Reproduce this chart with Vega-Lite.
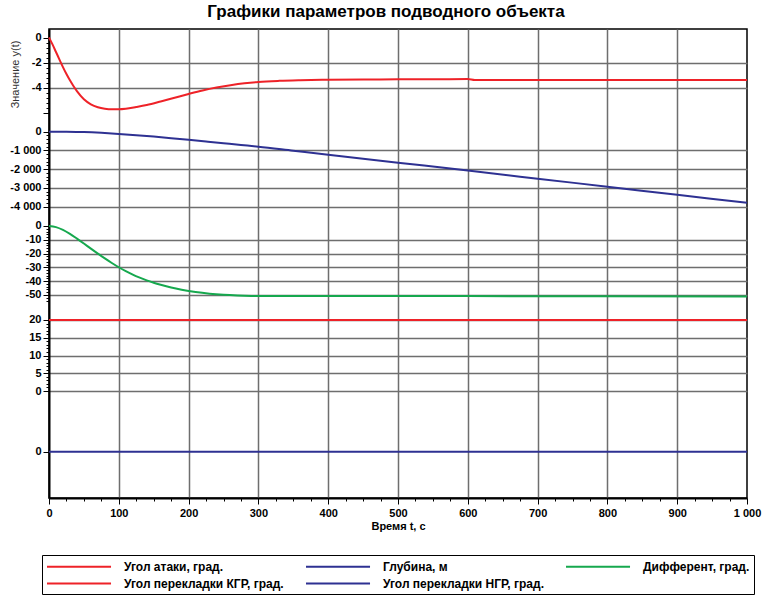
{
  "$schema": "https://vega.github.io/schema/vega-lite/v6.json",
  "width": 698,
  "height": 469,
  "autosize": "none",
  "padding": {"left": 49, "top": 29, "right": 15, "bottom": 97},
  "background": "white",
  "title": {"text": "Графики параметров подводного объекта", "font": "Liberation Sans", "fontSize": 17, "fontWeight": "bold", "color": "#000", "offset": 8, "dx": -12},
  "config": {
    "view": {"stroke": "#000", "strokeWidth": 1.5},
    "axis": {"labelFont": "Liberation Sans", "labelFontSize": 11, "labelFontWeight": "bold", "labelColor": "#000", "tickColor": "#000", "labelOverlap": false, "labelBound": false, "labelFlush": false, "gridColor": "#6e6e6e", "gridWidth": 1.5, "titleFont": "Liberation Sans", "titleColor": "#000"}
  },
  "encoding": {
    "x": {
      "field": "t", "type": "quantitative",
      "scale": {"domain": [0, 1000], "nice": false, "zero": false},
      "axis": {
        "values": [0,25,50,75,100,125,150,175,200,225,250,275,300,325,350,375,400,425,450,475,500,525,550,575,600,625,650,675,700,725,750,775,800,825,850,875,900,925,950,975,1000],
        "tickCount": 1000,
        "labelExpr": "datum.value % 100 === 0 ? (datum.value === 1000 ? '1 000' : '' + datum.value) : ''",
        "labelOverlap": false, "labelFlush": false,
        "tickSize": {"condition": {"test": "datum.value % 100 === 0", "value": 6}, "value": 3},
        "grid": true,
        "gridOpacity": {"condition": {"test": "datum.value % 100 === 0 && datum.value > 0 && datum.value < 1000", "value": 1}, "value": 0},
        "domainColor": "#000", "domainWidth": 2,
        "labelPadding": 3,
        "title": "Время t, с", "titleFontSize": 11, "titleFontWeight": "bold", "titlePadding": 2
      }
    }
  },
  "layer": [
    {
      "data": {"values": [
        {"t":0,"v":0},{"t":5,"v":-0.55},{"t":10,"v":-1.15},{"t":15,"v":-1.75},{"t":20,"v":-2.35},{"t":25,"v":-2.9},{"t":30,"v":-3.4},{"t":35,"v":-3.85},{"t":40,"v":-4.25},{"t":50,"v":-4.9},{"t":60,"v":-5.3},{"t":70,"v":-5.53},{"t":80,"v":-5.65},{"t":90,"v":-5.7},{"t":100,"v":-5.7},{"t":110,"v":-5.66},{"t":125,"v":-5.52},{"t":140,"v":-5.36},{"t":160,"v":-5.08},{"t":180,"v":-4.78},{"t":200,"v":-4.48},{"t":220,"v":-4.2},{"t":240,"v":-3.97},{"t":260,"v":-3.79},{"t":280,"v":-3.64},{"t":300,"v":-3.53},{"t":330,"v":-3.44},{"t":360,"v":-3.39},{"t":400,"v":-3.35},{"t":450,"v":-3.33},{"t":500,"v":-3.32},{"t":550,"v":-3.31},{"t":600,"v":-3.3},{"t":610,"v":-3.38},{"t":700,"v":-3.38},{"t":800,"v":-3.38},{"t":900,"v":-3.38},{"t":1000,"v":-3.38}
      ]},
      "layer": [
        {
          "mark": {"type": "line", "strokeWidth": 2, "interpolate": "monotone"},
          "encoding": {
            "y": {"field": "v", "type": "quantitative",
              "scale": {"domain": [-36.55, 0.675], "nice": false, "zero": false},
              "axis": {"orient": "left", "domain": false, "labelOverlap": false, "tickCount": 1000,
                "values": [0,-0.4,-0.8,-1.2,-1.6,-2,-2.4,-2.8,-3.2,-3.6,-4,-4.4,-4.8,-5.2,-5.6,-6],
                "labelExpr": "datum.value % 2 === 0 && datum.value >= -4 ? '' + datum.value : ''",
                "tickSize": {"condition": {"test": "datum.value % 2 === 0", "value": 6}, "value": 3},
                "grid": true,
                "gridOpacity": {"condition": {"test": "datum.value % 2 === 0 && datum.value < 0 && datum.value >= -4", "value": 1}, "value": 0},
                "labelPadding": 2,
                "title": "Значение y(t)", "titleFontSize": 11, "titleFontWeight": "normal", "titleColor": "#333",
                "titleX": -34, "titleY": 45, "titleAngle": -90, "titleAlign": "center", "titleBaseline": "middle"}
            },
            "color": {"datum": "Угол атаки, град.", "type": "nominal",
              "scale": {"domain": ["Угол атаки, град.", "Глубина, м", "Дифферент, град.", "Угол перекладки КГР, град.", "Угол перекладки НГР, град."], "range": ["#ee2228", "#2e3192", "#16a84e", "#ee2228", "#2e3192"]},
              "legend": {"orient": "none", "legendX": -7, "legendY": 526, "columns": 3, "direction": "horizontal", "title": null,
                "symbolType": "M-1,0H8.85", "symbolSize": 169, "symbolStrokeWidth": 2, "labelOffset": 63,
                "labelFont": "Liberation Sans", "labelFontSize": 12, "labelFontWeight": "bold", "labelColor": "#000", "labelLimit": 400,
                "columnPadding": 18, "rowPadding": 3, "padding": 4, "gridAlign": "each",
                "strokeColor": "#000", "fillColor": "#fff"}
            }
          }
        },
        {
          "data": {"values": [{}]},
          "mark": {"type": "rule", "strokeWidth": 3, "color": "#ee2228", "xOffset": -2.5},
          "encoding": {"x": {"datum": 0}, "y": {"datum": 0}, "y2": {"datum": -6}}
        }
      ]
    },
    {
      "data": {"values": [
        {"t":0,"v":0},{"t":25,"v":-5},{"t":50,"v":-22},{"t":75,"v":-62},{"t":100,"v":-118},{"t":125,"v":-185},{"t":150,"v":-262},{"t":175,"v":-345},{"t":200,"v":-432},{"t":225,"v":-522},{"t":250,"v":-614},{"t":275,"v":-707},{"t":300,"v":-800},{"t":350,"v":-1013},{"t":400,"v":-1225},{"t":500,"v":-1650},{"t":600,"v":-2075},{"t":700,"v":-2505},{"t":800,"v":-2935},{"t":900,"v":-3365},{"t":1000,"v":-3795}
      ]},
      "layer": [
        {
          "mark": {"type": "line", "strokeWidth": 2, "interpolate": "monotone"},
          "encoding": {
            "y": {"field": "v", "type": "quantitative",
              "scale": {"domain": [-19536, 5477], "nice": false, "zero": false},
              "axis": {"orient": "left", "domain": false, "title": null, "labelOverlap": false, "tickCount": 1000,
                "values": [0,-200,-400,-600,-800,-1000,-1200,-1400,-1600,-1800,-2000,-2200,-2400,-2600,-2800,-3000,-3200,-3400,-3600,-3800,-4000],
                "labelExpr": "datum.value % 1000 === 0 ? (datum.value === 0 ? '0' : '-' + floor(abs(datum.value) / 1000) + ' 000') : ''",
                "tickSize": {"condition": {"test": "datum.value % 1000 === 0", "value": 6}, "value": 3},
                "grid": true,
                "gridOpacity": {"condition": {"test": "datum.value % 1000 === 0 && datum.value < 0", "value": 1}, "value": 0},
                "labelPadding": 2}
            },
            "color": {"datum": "Глубина, м", "type": "nominal",
              "scale": {"domain": ["Угол атаки, град.", "Глубина, м", "Дифферент, град.", "Угол перекладки КГР, град.", "Угол перекладки НГР, град."], "range": ["#ee2228", "#2e3192", "#16a84e", "#ee2228", "#2e3192"]}}
          }
        },
        {
          "data": {"values": [{}]},
          "mark": {"type": "rule", "strokeWidth": 3, "color": "#2e3192", "xOffset": -2.5},
          "encoding": {"x": {"datum": 0}, "y": {"datum": 0}, "y2": {"datum": -4000}}
        }
      ]
    },
    {
      "data": {"values": [
        {"t":0,"v":0},{"t":10,"v":-0.8},{"t":20,"v":-2.8},{"t":30,"v":-5.7},{"t":40,"v":-9.1},{"t":50,"v":-12.7},{"t":60,"v":-16.4},{"t":70,"v":-20},{"t":80,"v":-23.5},{"t":90,"v":-26.8},{"t":100,"v":-29.9},{"t":110,"v":-32.7},{"t":120,"v":-35.2},{"t":130,"v":-37.4},{"t":140,"v":-39.4},{"t":150,"v":-41.1},{"t":160,"v":-42.6},{"t":175,"v":-44.6},{"t":190,"v":-46.2},{"t":210,"v":-47.9},{"t":230,"v":-49.1},{"t":250,"v":-49.9},{"t":270,"v":-50.4},{"t":290,"v":-50.7},{"t":310,"v":-50.8},{"t":400,"v":-50.8},{"t":600,"v":-50.8},{"t":1000,"v":-51}
      ]},
      "layer": [
        {
          "mark": {"type": "line", "strokeWidth": 2, "interpolate": "monotone"},
          "encoding": {
            "y": {"field": "v", "type": "quantitative",
              "scale": {"domain": [-197.1, 142.75], "nice": false, "zero": false},
              "axis": {"orient": "left", "domain": false, "title": null, "labelOverlap": false, "tickCount": 1000,
                "values": [0,-2,-4,-6,-8,-10,-12,-14,-16,-18,-20,-22,-24,-26,-28,-30,-32,-34,-36,-38,-40,-42,-44,-46,-48,-50,-52,-54],
                "labelExpr": "datum.value % 10 === 0 ? '' + datum.value : ''",
                "tickSize": {"condition": {"test": "datum.value % 10 === 0", "value": 6}, "value": 3},
                "grid": true,
                "gridOpacity": {"condition": {"test": "datum.value % 10 === 0 && datum.value < 0", "value": 1}, "value": 0},
                "labelPadding": 2}
            },
            "color": {"datum": "Дифферент, град.", "type": "nominal",
              "scale": {"domain": ["Угол атаки, град.", "Глубина, м", "Дифферент, град.", "Угол перекладки КГР, град.", "Угол перекладки НГР, град."], "range": ["#ee2228", "#2e3192", "#16a84e", "#ee2228", "#2e3192"]}}
          }
        },
        {
          "data": {"values": [{}]},
          "mark": {"type": "rule", "strokeWidth": 3, "color": "#16a84e", "xOffset": -2.5},
          "encoding": {"x": {"datum": 0}, "y": {"datum": 0}, "y2": {"datum": -54}}
        }
      ]
    },
    {
      "data": {"values": [{"t":0,"v":20},{"t":1000,"v":20}]},
      "layer": [
        {
          "mark": {"type": "line", "strokeWidth": 2},
          "encoding": {
            "y": {"field": "v", "type": "quantitative",
              "scale": {"domain": [-30.14, 101.97], "nice": false, "zero": false},
              "axis": {"orient": "left", "domain": false, "title": null, "labelOverlap": false, "tickCount": 1000,
                "values": [0,1,2,3,4,5,6,7,8,9,10,11,12,13,14,15,16,17,18,19,20],
                "labelExpr": "datum.value % 5 === 0 ? '' + datum.value : ''",
                "tickSize": {"condition": {"test": "datum.value % 5 === 0", "value": 6}, "value": 3},
                "grid": true,
                "gridOpacity": {"condition": {"test": "datum.value % 5 === 0", "value": 1}, "value": 0},
                "labelPadding": 2}
            },
            "color": {"datum": "Угол перекладки КГР, град.", "type": "nominal",
              "scale": {"domain": ["Угол атаки, град.", "Глубина, м", "Дифферент, град.", "Угол перекладки КГР, град.", "Угол перекладки НГР, град."], "range": ["#ee2228", "#2e3192", "#16a84e", "#ee2228", "#2e3192"]}}
          }
        },
        {
          "data": {"values": [{}]},
          "mark": {"type": "rule", "strokeWidth": 3, "color": "#ee2228", "xOffset": -2.5},
          "encoding": {"x": {"datum": 0}, "y": {"datum": -0.5}, "y2": {"datum": 20}}
        }
      ]
    },
    {
      "data": {"values": [{"t":0,"v":0},{"t":1000,"v":0}]},
      "layer": [
        {
          "mark": {"type": "line", "strokeWidth": 2},
          "encoding": {
            "y": {"field": "v", "type": "quantitative",
              "scale": {"domain": [-1.218, 11.124], "nice": false, "zero": false},
              "axis": {"orient": "left", "domain": true, "domainColor": "#000", "domainWidth": 2, "title": null, "labelOverlap": false, "tickCount": 1000,
                "values": [0],
                "labelExpr": "'0'",
                "tickSize": 6,
                "grid": false,
                "labelPadding": 2}
            },
            "color": {"datum": "Угол перекладки НГР, град.", "type": "nominal",
              "scale": {"domain": ["Угол атаки, град.", "Глубина, м", "Дифферент, град.", "Угол перекладки КГР, град.", "Угол перекладки НГР, град."], "range": ["#ee2228", "#2e3192", "#16a84e", "#ee2228", "#2e3192"]}}
          }
        },
        {
          "data": {"values": [{}]},
          "mark": {"type": "rule", "strokeWidth": 3, "color": "#2e3192", "xOffset": -2.5},
          "encoding": {"x": {"datum": 0}, "y": {"datum": 1}, "y2": {"datum": -1}}
        }
      ]
    }
  ],
  "resolve": {"scale": {"y": "independent", "color": "shared"}, "axis": {"y": "independent"}}
}
